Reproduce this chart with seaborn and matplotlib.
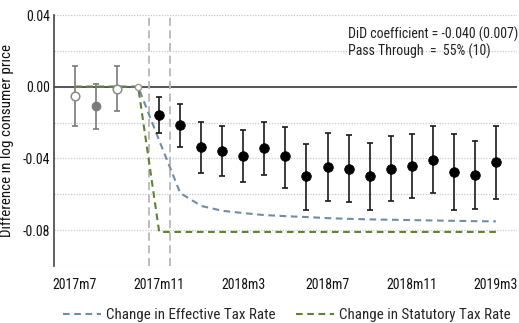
import numpy as np
import pandas as pd
import matplotlib
matplotlib.use("Agg")
import matplotlib.pyplot as plt
from matplotlib import font_manager
import seaborn as sns

# Event-study estimates, one per month from 2017m7 (index 0) to 2019m3 (index 20)
month_idx = list(range(21))
coef = [-0.0054, -0.0110, -0.0013, 0.0000, -0.0160, -0.0216, -0.0337, -0.0357,
        -0.0385, -0.0342, -0.0389, -0.0500, -0.0448, -0.0458, -0.0500, -0.0458,
        -0.0445, -0.0409, -0.0474, -0.0493, -0.0422]
ci_low = [-0.0221, -0.0236, -0.0138, np.nan, -0.0259, -0.0337, -0.0481, -0.0500,
          -0.0532, -0.0495, -0.0565, -0.0686, -0.0636, -0.0645, -0.0690, -0.0638,
          -0.0623, -0.0595, -0.0686, -0.0680, -0.0625]
ci_high = [0.0113, 0.0015, 0.0117, np.nan, -0.0058, -0.0095, -0.0195, -0.0218,
           -0.0240, -0.0194, -0.0223, -0.0318, -0.0258, -0.0268, -0.0314, -0.0273,
           -0.0266, -0.0218, -0.0262, -0.0305, -0.0221]

# Change in tax rates (log points)
effective_rate = [0.0, 0.0, 0.0, 0.0, -0.0300, -0.0593, -0.0665, -0.0692, -0.0705,
                  -0.0716, -0.0722, -0.0727, -0.0733, -0.0737, -0.0740, -0.0742,
                  -0.0744, -0.0746, -0.0748, -0.0750, -0.0751]
statutory_rate = [0.0, 0.0, 0.0, 0.0, -0.081, -0.081, -0.081, -0.081, -0.081,
                  -0.081, -0.081, -0.081, -0.081, -0.081, -0.081, -0.081, -0.081,
                  -0.081, -0.081, -0.081, -0.081]

tick_pos = [0, 4, 8, 12, 16, 20]
tick_labels = ["2017m7", "2017m11", "2018m3", "2018m7", "2018m11", "2019m3"]
reform_window = [3.5, 4.5]

did_text = "DiD coefficient = -0.040 (0.007)\nPass Through  =  55% (10)"

sns.set_theme(style="white")
names = {f.name for f in font_manager.fontManager.ttflist}
candidates = ["Liberation Sans Narrow", "Arial Narrow", "Nimbus Sans Narrow",
              "Roboto Condensed", "Archivo Narrow", "PT Sans Narrow",
              "Sofia Sans Semi Condensed", "Liberation Sans"]
family = next(c for c in candidates if c in names)
narrow = family != "Liberation Sans"
fs = 10 if narrow else 8.3
plt.rcParams["font.family"] = [family, "DejaVu Sans"]

df = pd.DataFrame({"month": month_idx, "coef": coef, "lo": ci_low, "hi": ci_high,
                   "effective": effective_rate, "statutory": statutory_rate})

fig = plt.figure(figsize=(5.19, 3.23), dpi=100)
ax = fig.add_axes([0.104, 0.1765, 0.892, 0.777])

# dotted horizontal grid
for yv in np.arange(-0.10, 0.041, 0.02):
    ax.axhline(yv, color="#c8c8c8", lw=0.9, ls=(0, (1, 1.2)), zorder=0)

ax.axhline(0, color="#555555", lw=1.4, zorder=1)
for xv in reform_window:
    ax.axvline(xv, color="#b8b8b8", lw=1.3, ls=(0, (4.5, 2.5)), zorder=1)

sns.lineplot(data=df, x="month", y="effective", ax=ax, color="#6f8ea6", lw=1.5,
             linestyle=(0, (3.2, 2.2)), label="Change in Effective Tax Rate", zorder=2)
sns.lineplot(data=df, x="month", y="statutory", ax=ax, color="#5e8233", lw=1.5,
             linestyle=(0, (3.2, 2.2)), label="Change in Statutory Tax Rate", zorder=2)

pre = df[df.month < 3]
post = df[df.month >= 4]
ax.errorbar(pre.month, pre.coef, yerr=[pre.coef - pre.lo, pre.hi - pre.coef], fmt="none",
            ecolor="#7a7a7a", elinewidth=1.2, capsize=2.5, capthick=1.2, zorder=3)
ax.errorbar(post.month, post.coef, yerr=[post.coef - post.lo, post.hi - post.coef], fmt="none",
            ecolor="#1a1a1a", elinewidth=1.2, capsize=2.5, capthick=1.2, zorder=3)

open_pts = df[df.month.isin([0, 2])]
sns.scatterplot(data=open_pts, x="month", y="coef", ax=ax, s=38, facecolor="white",
                edgecolor="#8a8a8a", linewidth=1.1, zorder=4, legend=False)
sns.scatterplot(data=df[df.month == 1], x="month", y="coef", ax=ax, s=42, color="#7a7a7a",
                edgecolor="#7a7a7a", zorder=4, legend=False)
sns.scatterplot(data=df[df.month == 3], x="month", y="coef", ax=ax, s=20, facecolor="white",
                edgecolor="#9a9a9a", linewidth=1.0, zorder=4, legend=False)
sns.scatterplot(data=post, x="month", y="coef", ax=ax, s=48, color="black",
                edgecolor="black", zorder=4, legend=False)

ax.text(0.635, 0.955, did_text, transform=ax.transAxes, ha="left", va="top",
        fontsize=fs, linespacing=1.2, color="#222222")

ax.set_xlim(-1, 21)
ax.set_ylim(-0.10, 0.04)
ax.set_xticks(tick_pos)
ax.set_xticklabels(tick_labels)
ax.set_yticks([-0.08, -0.04, 0.0, 0.04])
ax.set_yticklabels(["-0.08", "-0.04", "0.00", "0.04"])
ax.tick_params(axis="both", length=0, labelsize=fs, colors="#111111")
ax.tick_params(axis="x", pad=9)
ax.tick_params(axis="y", pad=3)
ax.set_xlabel("")
ax.set_ylabel("Difference in log consumer price", fontsize=fs * 1.08, color="#111111",
              labelpad=6)

for side in ["top", "right", "bottom"]:
    ax.spines[side].set_visible(False)
ax.spines["left"].set_color("#444444")
ax.spines["left"].set_linewidth(1.2)

ax.legend(loc="center", bbox_to_anchor=(0.503, -0.195), ncol=2, frameon=False,
          fontsize=fs * 1.08, handlelength=2.5, handletextpad=0.35, columnspacing=1.4)

fig.savefig("out.png", dpi=100)
